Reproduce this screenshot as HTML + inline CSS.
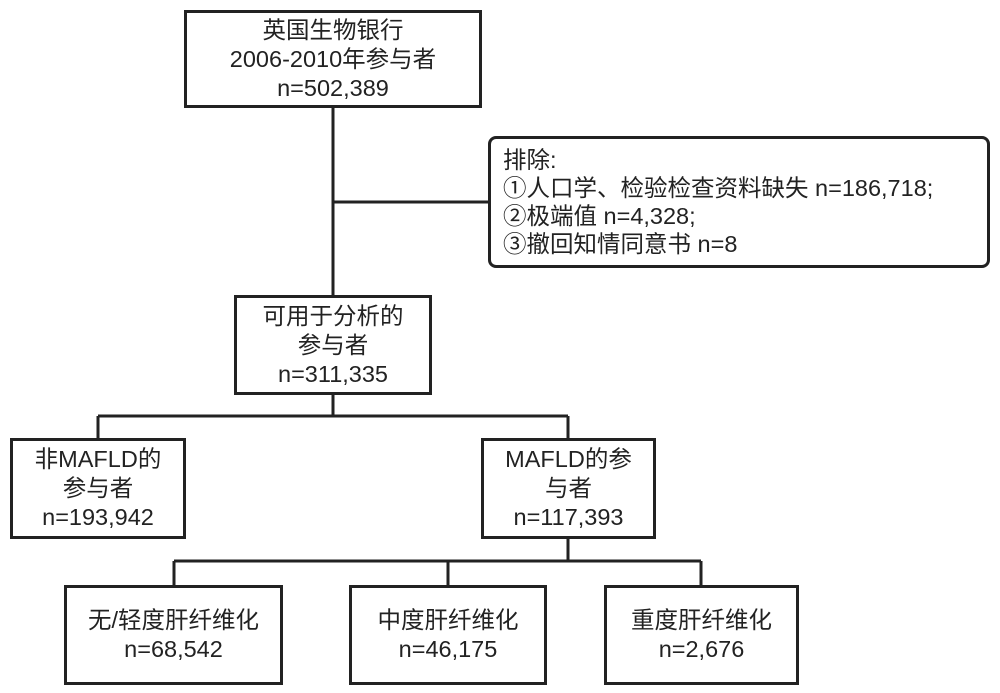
<!DOCTYPE html>
<html><head><meta charset="utf-8"><style>
body{margin:0;width:1000px;height:693px;background:#fff;position:relative;overflow:hidden;font-family:"Liberation Sans","Noto Sans CJK SC",sans-serif;color:#222}
.b{position:absolute;border:3px solid #222;box-sizing:border-box;display:flex;flex-direction:column;justify-content:center;align-items:center;text-align:center;font-size:23.5px;line-height:29px;background:#fff;white-space:nowrap}
svg{position:absolute;left:0;top:0}
</style></head><body>
<svg width="1000" height="693"><g stroke="#222" stroke-width="3" fill="none">
<line x1="333" y1="107" x2="333" y2="296"/>
<line x1="333" y1="202" x2="490" y2="202"/>
<line x1="333" y1="393" x2="333" y2="416"/>
<line x1="98" y1="416" x2="568" y2="416"/>
<line x1="98" y1="416" x2="98" y2="439"/>
<line x1="568" y1="416" x2="568" y2="439"/>
<line x1="568" y1="537" x2="568" y2="561"/>
<line x1="174" y1="561" x2="701" y2="561"/>
<line x1="174" y1="561" x2="174" y2="586"/>
<line x1="448" y1="561" x2="448" y2="586"/>
<line x1="701" y1="561" x2="701" y2="586"/>
</g></svg>
<div class="b" style="left:184px;top:10px;width:298px;height:98px">英国生物银行<br>2006-2010年参与者<br>n=502,389</div>
<div class="b" style="left:488px;top:136px;width:502px;height:132px;border-radius:8px;align-items:flex-start;text-align:left;padding-left:12px;line-height:28px">排除:<br>①人口学、检验检查资料缺失 n=186,718;<br>②极端值 n=4,328;<br>③撤回知情同意书 n=8</div>
<div class="b" style="left:234px;top:295px;width:198px;height:100px">可用于分析的<br>参与者<br>n=311,335</div>
<div class="b" style="left:10px;top:438px;width:176px;height:101px">非MAFLD的<br>参与者<br>n=193,942</div>
<div class="b" style="left:481px;top:438px;width:175px;height:101px">MAFLD的参<br>与者<br>n=117,393</div>
<div class="b" style="left:64px;top:585px;width:219px;height:100px">无/轻度肝纤维化<br>n=68,542</div>
<div class="b" style="left:349px;top:585px;width:198px;height:100px">中度肝纤维化<br>n=46,175</div>
<div class="b" style="left:604px;top:585px;width:195px;height:100px">重度肝纤维化<br>n=2,676</div>
</body></html>
